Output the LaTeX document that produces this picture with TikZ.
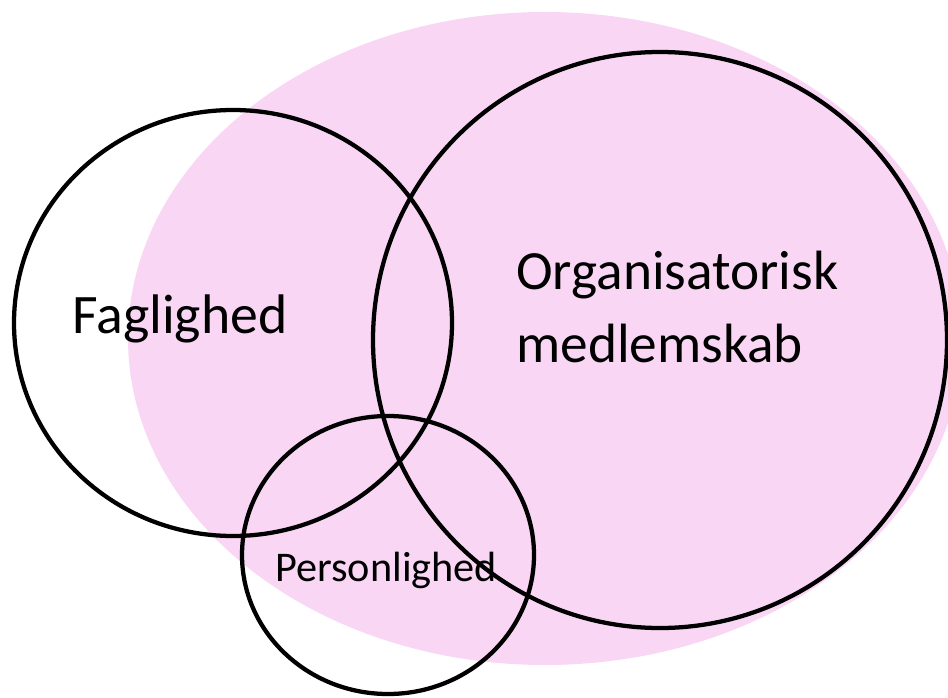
\documentclass[tikz,border=0pt]{standalone}
\usepackage{fontspec}
\setmainfont{Carlito}
\definecolor{venpink}{RGB}{250,214,245}
\begin{document}
\begin{tikzpicture}[x=0.75pt,y=-0.75pt,
  ring/.style={draw=black,line width=3.2pt},
  lbl/.style={inner sep=0pt,anchor=base west,text=black}]
\useasboundingbox (0,0) rectangle (948,698);
\fill[venpink] (545,338.5) ellipse [x radius=417, y radius=326.5];
\draw[ring] (233,323) ellipse [x radius=219, y radius=213];
\draw[ring] (660,340) ellipse [x radius=287, y radius=288];
\draw[ring] (388,555) ellipse [x radius=146, y radius=139];
\node[lbl,font=\fontsize{41.8}{50}\selectfont] (fag) at (72,333) {Faglighed};
\node[lbl,font=\fontsize{41.5}{54}\selectfont] (org1) at (516,290) {Organisatorisk};
\node[lbl,font=\fontsize{41.5}{54}\selectfont] (org2) at (516,362) {medlemskab};
\node[lbl,font=\fontsize{31.7}{38}\selectfont] (per) at (275,581) {Personlighed};
\end{tikzpicture}
\end{document}
